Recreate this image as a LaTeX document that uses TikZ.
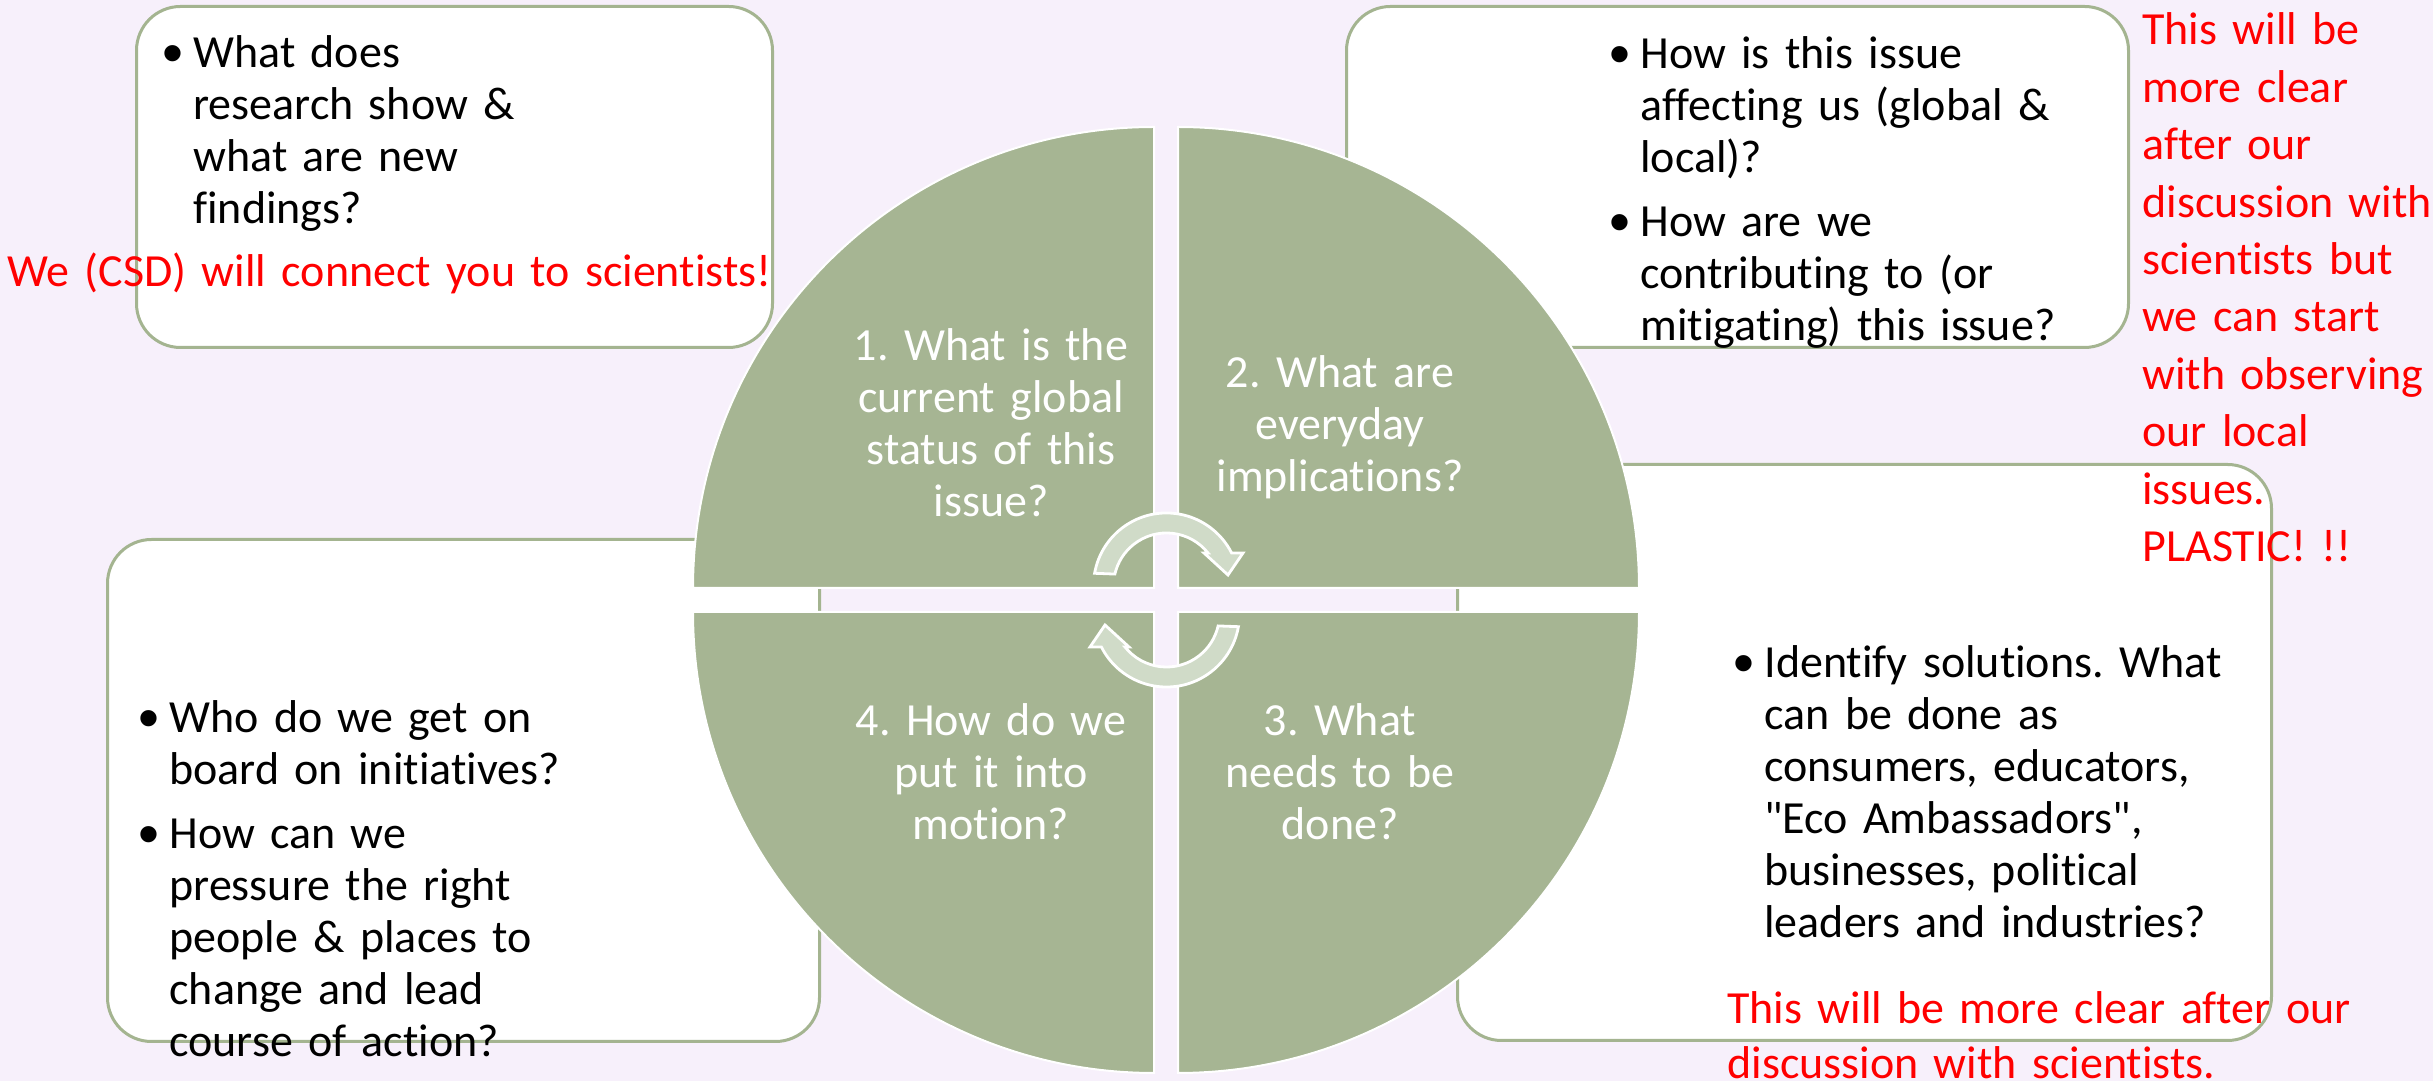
\documentclass[tikz,border=0pt]{standalone}
\usepackage{graphicx}
\usepackage{fontspec}
\setmainfont[Ligatures=CommonOff]{Carlito}
\newfontfamily\bulletfont{Liberation Sans}
\definecolor{bgcol}{RGB}{247,240,251}
\definecolor{quadcol}{RGB}{166,181,147}
\definecolor{boxline}{RGB}{164,180,144}
\definecolor{arrcol}{RGB}{208,219,200}
\newcommand{\bmark}{\makebox[16.5pt][l]{\hspace{1pt}\raisebox{-0.13em}{\scalebox{1.3}{\bulletfont\textbullet}}}}
\newcommand{\bpar}[1]{\hangindent=16.5pt\hangafter=1\noindent\bmark#1\par}
\tikzset{
  infobox/.style={draw=boxline, line width=1.5pt, fill=white, rounded corners=22pt, inner sep=0pt, anchor=south west},
  quad/.style={fill=quadcol, draw=white, line width=1pt},
  cyc/.style={fill=arrcol, draw=white, line width=1.4pt, line join=miter},
  qtext/.style={text=white, font=\fontsize{23}{26}\selectfont\frenchspacing, align=center, text width=160pt, anchor=base, inner sep=0pt},
  btext/.style={text=black, font=\fontsize{23}{26}\selectfont\frenchspacing, align=left, text width=260pt, anchor=base west, inner sep=0pt},
  rtext/.style={text=red, align=left, text width=500pt, anchor=base west, inner sep=0pt}
}
\begin{document}
\begin{tikzpicture}[x=0.5pt,y=0.5pt]
\useasboundingbox (0,0) rectangle (2433,1081);
\fill[bgcol] (0,0) rectangle (2433,1081);
% boxes
\node[infobox, minimum width=318pt, minimum height=170.5pt] (boxtl) at (135,732) {};
\node[infobox, minimum width=391pt, minimum height=170.5pt] (boxtr) at (1345,732) {};
\node[infobox, minimum width=407pt, minimum height=288pt] (boxbr) at (1456,39) {};
\node[infobox, minimum width=356pt, minimum height=251pt] (boxbl) at (106,38) {};
% quadrants
\path[quad] (1154,493) -- (1154,954) arc[start angle=90,end angle=180,radius=461] -- cycle;
\path[quad] (1178,493) -- (1639,493) arc[start angle=0,end angle=90,radius=461] -- cycle;
\path[quad] (1178,469) -- (1178,8) arc[start angle=-90,end angle=0,radius=461] -- cycle;
\path[quad] (1154,469) -- (693,469) arc[start angle=180,end angle=270,radius=461] -- cycle;
% cycle arrows
\path[cyc] (1094.6,507.7) arc[start angle=170,end angle=26.9,radius=73] -- (1243,528) -- (1228,506) -- (1204,528) -- (1208,528) arc[start angle=38.5,end angle=167,radius=53] -- cycle;
\begin{scope}[rotate around={180:(1166.5,481)}]
\path[cyc] (1094.6,507.7) arc[start angle=170,end angle=26.9,radius=73] -- (1243,528) -- (1228,506) -- (1204,528) -- (1208,528) arc[start angle=38.5,end angle=167,radius=53] -- cycle;
\end{scope}
% quadrant texts
\node[qtext] (q1) at (991,720) {1. What is the\\current global\\status of this\\issue?};
\node[qtext] (q2) at (1340,693.5) {2. What are\\everyday\\implications?};
\node[qtext] (q3) at (1340,345) {3. What\\needs to be\\done?};
\node[qtext] (q4) at (991,345) {4. How do we\\put it into\\motion?};
% box texts
\node[btext] (tltext) at (160,1013) {\bpar{What does\newline research show \&\newline what are new\newline findings?}};
\node[btext] (trtext) at (1607,1012) {\setlength{\parskip}{6pt}\bpar{How is this issue\newline affecting us (global \&\newline local)?}\bpar{How are we\newline contributing to (or\newline mitigating) this issue?}};
\node[btext] (brtext) at (1731,403.6) {\bpar{Identify solutions. What\newline can be done as\newline consumers, educators,\newline \textquotedbl Eco Ambassadors\textquotedbl,\newline businesses, political\newline leaders and industries?}};
\node[btext] (bltext) at (136,348) {\setlength{\parskip}{6pt}\bpar{Who do we get on\newline board on initiatives?}\bpar{How can we\newline pressure the right\newline people \& places to\newline change and lead\newline course of action?}};
% red notes
\node[rtext, font=\fontsize{23}{26}\selectfont\frenchspacing] (redtl) at (7,794) {We (CSD) will connect you to scientists!};
\node[rtext, font=\fontsize{23}{28.7}\selectfont\frenchspacing] (redr) at (2142,1036) {This will be\\more clear\\after our\\discussion with\\scientists but\\we can start\\with observing\\our local\\issues.\\PLASTIC! !!};
\node[rtext, font=\fontsize{23}{27.5}\selectfont\frenchspacing] (redbr) at (1727,57.6) {This will be more clear after our\\discussion with scientists.};
\end{tikzpicture}
\end{document}
